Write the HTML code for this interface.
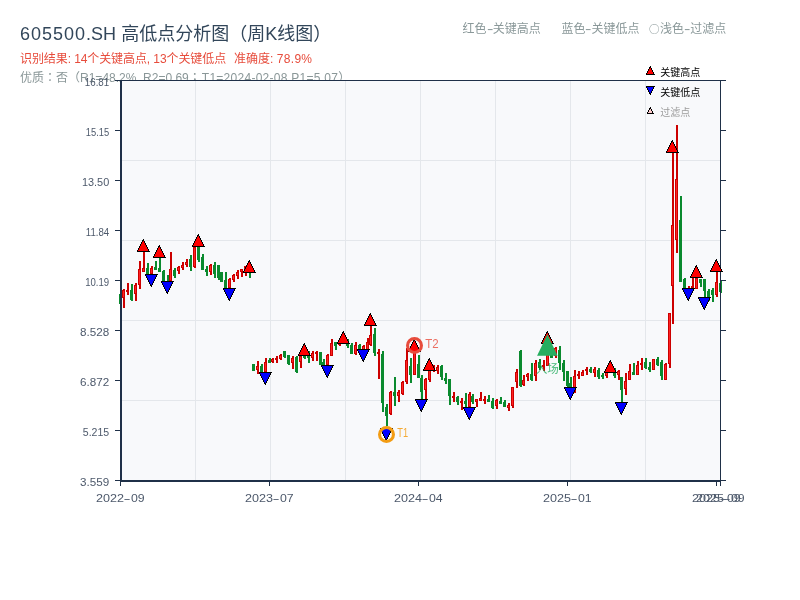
<!DOCTYPE html>
<html lang="zh-CN"><head><meta charset="utf-8"><title>605500.SH 高低点分析图</title>
<style>
html,body{margin:0;padding:0;background:#fff;}
body{width:800px;height:600px;position:relative;overflow:hidden;font-family:"Liberation Sans","Noto Sans CJK SC",sans-serif;}
.t{position:absolute;white-space:nowrap;line-height:1;transform-origin:0 0;}
#title{left:20px;top:25px;font-size:18px;color:#32465a;}
#title .l{letter-spacing:0.97px;}
#title .l2{letter-spacing:0.1px;}
#sub{left:20px;top:53px;font-size:12px;color:#e74c3c;}
#info{left:20px;top:70.5px;font-size:12px;color:#8a9798;}
.lg{top:23px;font-size:12px;color:#8a9899;}
.hy{display:inline-block;width:6.2px;text-align:center;transform:scaleX(1.6);}
.tc{font-family:"Noto Sans CJK TC","Noto Sans CJK SC",sans-serif;}
.cj{font-family:"Noto Sans CJK SC",sans-serif;font-size:10.5px;margin-right:0.5px;position:relative;top:-0.3px;}
svg{position:absolute;left:0;top:0;}
svg text{font-family:"Liberation Sans","Noto Sans CJK SC",sans-serif;}
</style></head><body>
<div class="t" id="title"><span class="l">605500</span><span class="l2">.SH </span>高低点分析图（周K线图）</div>
<div class="t" id="sub"><span style="letter-spacing:-0.09px">识别结果: 14个关键高点, 13个关键低点</span><span style="margin-left:1.4px">&nbsp; 准确度: </span><span style="letter-spacing:0.3px">78.9%</span></div>
<div class="t" id="info">优质<span class="tc" lang="zh-TW">：</span>否（R1=48.2%, R2=0.69<span class="tc" lang="zh-TW">；</span><span style="letter-spacing:0.27px;margin-left:1px">T1=2024-02-08 P1=5.07</span>）</div>
<div class="t lg" style="left:462.5px">红色<span class="hy">-</span>关键高点</div>
<div class="t lg" style="left:561.4px">蓝色<span class="hy">-</span>关键低点</div>
<div class="t lg" style="left:649px"><span class="cj">○</span>浅色<span class="hy">-</span>过滤点</div>
<svg width="800" height="600" viewBox="0 0 800 600">

<rect x="120" y="80" width="601" height="401" fill="#f8f9fb"/>
<g stroke="#e4e7eb" stroke-width="1" fill="none" shape-rendering="crispEdges">
<line x1="195.5" y1="81" x2="195.5" y2="480"/>
<line x1="270.5" y1="81" x2="270.5" y2="480"/>
<line x1="345.5" y1="81" x2="345.5" y2="480"/>
<line x1="420.5" y1="81" x2="420.5" y2="480"/>
<line x1="495.5" y1="81" x2="495.5" y2="480"/>
<line x1="570.5" y1="81" x2="570.5" y2="480"/>
<line x1="645.5" y1="81" x2="645.5" y2="480"/>
<line x1="122" y1="160.5" x2="720" y2="160.5"/>
<line x1="122" y1="240.5" x2="720" y2="240.5"/>
<line x1="122" y1="320.5" x2="720" y2="320.5"/>
<line x1="122" y1="400.5" x2="720" y2="400.5"/>
</g>
<g shape-rendering="crispEdges">
<rect x="119" y="294" width="3" height="10" fill="#0a8a2e"/>
<rect x="123" y="289" width="2" height="19" fill="#cc0000"/>
<rect x="122" y="290" width="3" height="8" fill="#cc0000"/>
<rect x="123" y="291" width="1" height="6" fill="#ff2222"/>
<rect x="127" y="283" width="2" height="12" fill="#cc0000"/>
<rect x="126" y="290" width="3" height="2" fill="#cc0000"/>
<rect x="131" y="284" width="2" height="17" fill="#0a8a2e"/>
<rect x="130" y="290" width="3" height="10" fill="#0a8a2e"/>
<rect x="135" y="283" width="2" height="18" fill="#cc0000"/>
<rect x="134" y="285" width="3" height="9" fill="#cc0000"/>
<rect x="135" y="286" width="1" height="7" fill="#ff2222"/>
<rect x="139" y="261" width="2" height="28" fill="#cc0000"/>
<rect x="138" y="269" width="3" height="16" fill="#cc0000"/>
<rect x="139" y="270" width="1" height="14" fill="#ff2222"/>
<rect x="143" y="252" width="2" height="20" fill="#cc0000"/>
<rect x="142" y="268" width="3" height="4" fill="#cc0000"/>
<rect x="143" y="269" width="1" height="2" fill="#ff2222"/>
<rect x="147" y="263" width="2" height="11" fill="#0a8a2e"/>
<rect x="146" y="268" width="3" height="6" fill="#0a8a2e"/>
<rect x="151" y="266" width="2" height="8" fill="#cc0000"/>
<rect x="150" y="268" width="3" height="6" fill="#cc0000"/>
<rect x="151" y="269" width="1" height="4" fill="#ff2222"/>
<rect x="155" y="261" width="2" height="9" fill="#0a8a2e"/>
<rect x="154" y="267" width="3" height="3" fill="#0a8a2e"/>
<rect x="159" y="258" width="2" height="14" fill="#0a8a2e"/>
<rect x="158" y="268" width="3" height="4" fill="#0a8a2e"/>
<rect x="163" y="270" width="2" height="11" fill="#0a8a2e"/>
<rect x="162" y="271" width="3" height="10" fill="#0a8a2e"/>
<rect x="167" y="275" width="2" height="7" fill="#0a8a2e"/>
<rect x="166" y="281" width="3" height="1" fill="#0a8a2e"/>
<rect x="170" y="252" width="2" height="29" fill="#cc0000"/>
<rect x="169" y="269" width="3" height="12" fill="#cc0000"/>
<rect x="170" y="270" width="1" height="10" fill="#ff2222"/>
<rect x="174" y="268" width="2" height="10" fill="#0a8a2e"/>
<rect x="173" y="270" width="3" height="6" fill="#0a8a2e"/>
<rect x="178" y="266" width="2" height="8" fill="#cc0000"/>
<rect x="177" y="267" width="3" height="4" fill="#cc0000"/>
<rect x="178" y="268" width="1" height="2" fill="#ff2222"/>
<rect x="182" y="262" width="2" height="8" fill="#cc0000"/>
<rect x="181" y="265" width="3" height="3" fill="#cc0000"/>
<rect x="182" y="266" width="1" height="1" fill="#ff2222"/>
<rect x="186" y="259" width="2" height="8" fill="#cc0000"/>
<rect x="185" y="262" width="3" height="3" fill="#cc0000"/>
<rect x="186" y="263" width="1" height="1" fill="#ff2222"/>
<rect x="190" y="255" width="2" height="16" fill="#0a8a2e"/>
<rect x="189" y="259" width="3" height="8" fill="#0a8a2e"/>
<rect x="194" y="247" width="2" height="21" fill="#cc0000"/>
<rect x="193" y="247" width="3" height="20" fill="#cc0000"/>
<rect x="194" y="248" width="1" height="18" fill="#ff2222"/>
<rect x="198" y="247" width="2" height="15" fill="#0a8a2e"/>
<rect x="197" y="247" width="3" height="13" fill="#0a8a2e"/>
<rect x="202" y="254" width="2" height="16" fill="#0a8a2e"/>
<rect x="201" y="257" width="3" height="13" fill="#0a8a2e"/>
<rect x="206" y="266" width="2" height="10" fill="#0a8a2e"/>
<rect x="205" y="269" width="3" height="3" fill="#0a8a2e"/>
<rect x="210" y="264" width="2" height="11" fill="#cc0000"/>
<rect x="209" y="265" width="3" height="7" fill="#cc0000"/>
<rect x="210" y="266" width="1" height="5" fill="#ff2222"/>
<rect x="214" y="262" width="2" height="16" fill="#0a8a2e"/>
<rect x="213" y="265" width="3" height="9" fill="#0a8a2e"/>
<rect x="218" y="265" width="2" height="15" fill="#0a8a2e"/>
<rect x="217" y="265" width="3" height="13" fill="#0a8a2e"/>
<rect x="220" y="272" width="3" height="10" fill="#0a8a2e"/>
<rect x="225" y="272" width="2" height="16" fill="#0a8a2e"/>
<rect x="224" y="280" width="3" height="8" fill="#0a8a2e"/>
<rect x="229" y="278" width="2" height="10" fill="#cc0000"/>
<rect x="228" y="279" width="3" height="9" fill="#cc0000"/>
<rect x="229" y="280" width="1" height="7" fill="#ff2222"/>
<rect x="233" y="274" width="2" height="8" fill="#cc0000"/>
<rect x="232" y="275" width="3" height="5" fill="#cc0000"/>
<rect x="233" y="276" width="1" height="3" fill="#ff2222"/>
<rect x="237" y="270" width="2" height="9" fill="#cc0000"/>
<rect x="236" y="272" width="3" height="4" fill="#cc0000"/>
<rect x="237" y="273" width="1" height="2" fill="#ff2222"/>
<rect x="241" y="269" width="2" height="8" fill="#cc0000"/>
<rect x="240" y="269" width="3" height="3" fill="#cc0000"/>
<rect x="241" y="270" width="1" height="1" fill="#ff2222"/>
<rect x="245" y="266" width="2" height="10" fill="#cc0000"/>
<rect x="244" y="266" width="3" height="6" fill="#cc0000"/>
<rect x="245" y="267" width="1" height="4" fill="#ff2222"/>
<rect x="249" y="270" width="2" height="8" fill="#0a8a2e"/>
<rect x="248" y="270" width="3" height="2" fill="#0a8a2e"/>
<rect x="252" y="364" width="3" height="7" fill="#0a8a2e"/>
<rect x="257" y="361" width="2" height="13" fill="#cc0000"/>
<rect x="256" y="366" width="3" height="4" fill="#cc0000"/>
<rect x="257" y="367" width="1" height="2" fill="#ff2222"/>
<rect x="261" y="364" width="2" height="8" fill="#0a8a2e"/>
<rect x="260" y="366" width="3" height="6" fill="#0a8a2e"/>
<rect x="265" y="358" width="2" height="14" fill="#cc0000"/>
<rect x="264" y="362" width="3" height="10" fill="#cc0000"/>
<rect x="265" y="363" width="1" height="8" fill="#ff2222"/>
<rect x="269" y="358" width="2" height="5" fill="#0a8a2e"/>
<rect x="268" y="360" width="3" height="3" fill="#0a8a2e"/>
<rect x="272" y="358" width="2" height="5" fill="#cc0000"/>
<rect x="271" y="359" width="3" height="3" fill="#cc0000"/>
<rect x="272" y="360" width="1" height="1" fill="#ff2222"/>
<rect x="276" y="356" width="2" height="7" fill="#cc0000"/>
<rect x="275" y="358" width="3" height="2" fill="#cc0000"/>
<rect x="280" y="354" width="2" height="6" fill="#cc0000"/>
<rect x="279" y="355" width="3" height="4" fill="#cc0000"/>
<rect x="280" y="356" width="1" height="2" fill="#ff2222"/>
<rect x="284" y="351" width="2" height="7" fill="#0a8a2e"/>
<rect x="283" y="351" width="3" height="6" fill="#0a8a2e"/>
<rect x="288" y="355" width="2" height="10" fill="#0a8a2e"/>
<rect x="287" y="355" width="3" height="9" fill="#0a8a2e"/>
<rect x="292" y="356" width="2" height="13" fill="#cc0000"/>
<rect x="291" y="358" width="3" height="5" fill="#cc0000"/>
<rect x="292" y="359" width="1" height="3" fill="#ff2222"/>
<rect x="296" y="356" width="2" height="17" fill="#0a8a2e"/>
<rect x="295" y="357" width="3" height="15" fill="#0a8a2e"/>
<rect x="300" y="356" width="2" height="12" fill="#cc0000"/>
<rect x="299" y="356" width="3" height="6" fill="#cc0000"/>
<rect x="300" y="357" width="1" height="4" fill="#ff2222"/>
<rect x="304" y="356" width="2" height="3" fill="#0a8a2e"/>
<rect x="303" y="356" width="3" height="2" fill="#0a8a2e"/>
<rect x="308" y="351" width="2" height="12" fill="#0a8a2e"/>
<rect x="307" y="352" width="3" height="6" fill="#0a8a2e"/>
<rect x="312" y="351" width="2" height="10" fill="#cc0000"/>
<rect x="311" y="353" width="3" height="5" fill="#cc0000"/>
<rect x="312" y="354" width="1" height="3" fill="#ff2222"/>
<rect x="316" y="351" width="2" height="10" fill="#cc0000"/>
<rect x="315" y="352" width="3" height="2" fill="#cc0000"/>
<rect x="319" y="352" width="3" height="13" fill="#0a8a2e"/>
<rect x="323" y="359" width="2" height="6" fill="#0a8a2e"/>
<rect x="322" y="362" width="3" height="3" fill="#0a8a2e"/>
<rect x="327" y="354" width="2" height="11" fill="#cc0000"/>
<rect x="326" y="355" width="3" height="10" fill="#cc0000"/>
<rect x="327" y="356" width="1" height="8" fill="#ff2222"/>
<rect x="331" y="339" width="2" height="17" fill="#cc0000"/>
<rect x="330" y="343" width="3" height="13" fill="#cc0000"/>
<rect x="331" y="344" width="1" height="11" fill="#ff2222"/>
<rect x="335" y="342" width="2" height="8" fill="#0a8a2e"/>
<rect x="334" y="342" width="3" height="4" fill="#0a8a2e"/>
<rect x="339" y="342" width="2" height="4" fill="#cc0000"/>
<rect x="338" y="343" width="3" height="2" fill="#cc0000"/>
<rect x="342" y="338" width="3" height="5" fill="#cc0000"/>
<rect x="343" y="339" width="1" height="3" fill="#ff2222"/>
<rect x="347" y="339" width="2" height="9" fill="#0a8a2e"/>
<rect x="346" y="341" width="3" height="5" fill="#0a8a2e"/>
<rect x="351" y="343" width="2" height="11" fill="#0a8a2e"/>
<rect x="350" y="345" width="3" height="9" fill="#0a8a2e"/>
<rect x="355" y="342" width="2" height="13" fill="#cc0000"/>
<rect x="354" y="345" width="3" height="9" fill="#cc0000"/>
<rect x="355" y="346" width="1" height="7" fill="#ff2222"/>
<rect x="359" y="344" width="2" height="6" fill="#0a8a2e"/>
<rect x="358" y="345" width="3" height="5" fill="#0a8a2e"/>
<rect x="363" y="345" width="2" height="5" fill="#cc0000"/>
<rect x="362" y="346" width="3" height="4" fill="#cc0000"/>
<rect x="363" y="347" width="1" height="2" fill="#ff2222"/>
<rect x="367" y="338" width="2" height="12" fill="#cc0000"/>
<rect x="366" y="342" width="3" height="8" fill="#cc0000"/>
<rect x="367" y="343" width="1" height="6" fill="#ff2222"/>
<rect x="370" y="326" width="2" height="20" fill="#cc0000"/>
<rect x="369" y="335" width="3" height="10" fill="#cc0000"/>
<rect x="370" y="336" width="1" height="8" fill="#ff2222"/>
<rect x="374" y="328" width="2" height="28" fill="#0a8a2e"/>
<rect x="373" y="334" width="3" height="19" fill="#0a8a2e"/>
<rect x="378" y="349" width="2" height="30" fill="#cc0000"/>
<rect x="377" y="352" width="3" height="2" fill="#cc0000"/>
<rect x="382" y="351" width="2" height="61" fill="#0a8a2e"/>
<rect x="381" y="354" width="3" height="49" fill="#0a8a2e"/>
<rect x="386" y="404" width="2" height="22" fill="#0a8a2e"/>
<rect x="385" y="407" width="3" height="9" fill="#0a8a2e"/>
<rect x="390" y="391" width="2" height="24" fill="#cc0000"/>
<rect x="389" y="392" width="3" height="22" fill="#cc0000"/>
<rect x="390" y="393" width="1" height="20" fill="#ff2222"/>
<rect x="394" y="377" width="2" height="29" fill="#0a8a2e"/>
<rect x="393" y="392" width="3" height="4" fill="#0a8a2e"/>
<rect x="398" y="390" width="2" height="12" fill="#cc0000"/>
<rect x="397" y="392" width="3" height="4" fill="#cc0000"/>
<rect x="398" y="393" width="1" height="2" fill="#ff2222"/>
<rect x="402" y="381" width="2" height="14" fill="#cc0000"/>
<rect x="401" y="382" width="3" height="12" fill="#cc0000"/>
<rect x="402" y="383" width="1" height="10" fill="#ff2222"/>
<rect x="406" y="348" width="2" height="36" fill="#cc0000"/>
<rect x="405" y="360" width="3" height="22" fill="#cc0000"/>
<rect x="406" y="361" width="1" height="20" fill="#ff2222"/>
<rect x="410" y="358" width="2" height="25" fill="#0a8a2e"/>
<rect x="409" y="366" width="3" height="9" fill="#0a8a2e"/>
<rect x="413" y="353" width="3" height="22" fill="#cc0000"/>
<rect x="414" y="354" width="1" height="20" fill="#ff2222"/>
<rect x="418" y="355" width="2" height="23" fill="#0a8a2e"/>
<rect x="417" y="364" width="3" height="14" fill="#0a8a2e"/>
<rect x="421" y="375" width="2" height="24" fill="#0a8a2e"/>
<rect x="420" y="378" width="3" height="14" fill="#0a8a2e"/>
<rect x="425" y="378" width="2" height="21" fill="#cc0000"/>
<rect x="424" y="379" width="3" height="11" fill="#cc0000"/>
<rect x="425" y="380" width="1" height="9" fill="#ff2222"/>
<rect x="429" y="368" width="2" height="14" fill="#cc0000"/>
<rect x="428" y="368" width="3" height="12" fill="#cc0000"/>
<rect x="429" y="369" width="1" height="10" fill="#ff2222"/>
<rect x="433" y="365" width="2" height="7" fill="#cc0000"/>
<rect x="432" y="366" width="3" height="4" fill="#cc0000"/>
<rect x="433" y="367" width="1" height="2" fill="#ff2222"/>
<rect x="437" y="365" width="2" height="9" fill="#cc0000"/>
<rect x="436" y="367" width="3" height="4" fill="#cc0000"/>
<rect x="437" y="368" width="1" height="2" fill="#ff2222"/>
<rect x="441" y="365" width="2" height="15" fill="#0a8a2e"/>
<rect x="440" y="366" width="3" height="11" fill="#0a8a2e"/>
<rect x="445" y="373" width="2" height="11" fill="#0a8a2e"/>
<rect x="444" y="378" width="3" height="3" fill="#0a8a2e"/>
<rect x="449" y="379" width="2" height="26" fill="#0a8a2e"/>
<rect x="448" y="379" width="3" height="17" fill="#0a8a2e"/>
<rect x="453" y="392" width="2" height="10" fill="#cc0000"/>
<rect x="452" y="396" width="3" height="2" fill="#cc0000"/>
<rect x="457" y="396" width="2" height="9" fill="#0a8a2e"/>
<rect x="456" y="397" width="3" height="5" fill="#0a8a2e"/>
<rect x="461" y="398" width="2" height="12" fill="#cc0000"/>
<rect x="460" y="401" width="3" height="2" fill="#cc0000"/>
<rect x="465" y="393" width="2" height="14" fill="#0a8a2e"/>
<rect x="464" y="401" width="3" height="3" fill="#0a8a2e"/>
<rect x="469" y="392" width="2" height="15" fill="#cc0000"/>
<rect x="468" y="394" width="3" height="13" fill="#cc0000"/>
<rect x="469" y="395" width="1" height="11" fill="#ff2222"/>
<rect x="472" y="394" width="2" height="10" fill="#0a8a2e"/>
<rect x="471" y="396" width="3" height="6" fill="#0a8a2e"/>
<rect x="476" y="399" width="2" height="8" fill="#cc0000"/>
<rect x="475" y="399" width="3" height="3" fill="#cc0000"/>
<rect x="476" y="400" width="1" height="1" fill="#ff2222"/>
<rect x="480" y="392" width="2" height="9" fill="#cc0000"/>
<rect x="479" y="398" width="3" height="3" fill="#cc0000"/>
<rect x="480" y="399" width="1" height="1" fill="#ff2222"/>
<rect x="484" y="396" width="2" height="8" fill="#cc0000"/>
<rect x="483" y="399" width="3" height="2" fill="#cc0000"/>
<rect x="488" y="395" width="2" height="7" fill="#0a8a2e"/>
<rect x="487" y="399" width="3" height="3" fill="#0a8a2e"/>
<rect x="492" y="398" width="2" height="11" fill="#0a8a2e"/>
<rect x="491" y="401" width="3" height="7" fill="#0a8a2e"/>
<rect x="496" y="399" width="2" height="10" fill="#cc0000"/>
<rect x="495" y="400" width="3" height="6" fill="#cc0000"/>
<rect x="496" y="401" width="1" height="4" fill="#ff2222"/>
<rect x="500" y="397" width="2" height="7" fill="#0a8a2e"/>
<rect x="499" y="401" width="3" height="3" fill="#0a8a2e"/>
<rect x="504" y="400" width="2" height="7" fill="#0a8a2e"/>
<rect x="503" y="402" width="3" height="5" fill="#0a8a2e"/>
<rect x="508" y="403" width="2" height="8" fill="#cc0000"/>
<rect x="507" y="405" width="3" height="3" fill="#cc0000"/>
<rect x="508" y="406" width="1" height="1" fill="#ff2222"/>
<rect x="512" y="387" width="2" height="21" fill="#cc0000"/>
<rect x="511" y="387" width="3" height="19" fill="#cc0000"/>
<rect x="512" y="388" width="1" height="17" fill="#ff2222"/>
<rect x="516" y="369" width="2" height="19" fill="#cc0000"/>
<rect x="515" y="372" width="3" height="10" fill="#cc0000"/>
<rect x="516" y="373" width="1" height="8" fill="#ff2222"/>
<rect x="520" y="350" width="2" height="37" fill="#0a8a2e"/>
<rect x="519" y="351" width="3" height="35" fill="#0a8a2e"/>
<rect x="523" y="375" width="2" height="11" fill="#cc0000"/>
<rect x="522" y="380" width="3" height="5" fill="#cc0000"/>
<rect x="523" y="381" width="1" height="3" fill="#ff2222"/>
<rect x="527" y="373" width="2" height="8" fill="#cc0000"/>
<rect x="526" y="374" width="3" height="3" fill="#cc0000"/>
<rect x="527" y="375" width="1" height="1" fill="#ff2222"/>
<rect x="531" y="363" width="2" height="18" fill="#0a8a2e"/>
<rect x="530" y="374" width="3" height="6" fill="#0a8a2e"/>
<rect x="535" y="360" width="2" height="21" fill="#cc0000"/>
<rect x="534" y="363" width="3" height="13" fill="#cc0000"/>
<rect x="535" y="364" width="1" height="11" fill="#ff2222"/>
<rect x="539" y="359" width="2" height="11" fill="#0a8a2e"/>
<rect x="538" y="362" width="3" height="6" fill="#0a8a2e"/>
<rect x="543" y="360" width="2" height="11" fill="#cc0000"/>
<rect x="542" y="365" width="3" height="2" fill="#cc0000"/>
<rect x="546" y="352" width="3" height="14" fill="#cc0000"/>
<rect x="547" y="353" width="1" height="12" fill="#ff2222"/>
<rect x="550" y="350" width="3" height="8" fill="#0a8a2e"/>
<rect x="555" y="347" width="2" height="11" fill="#cc0000"/>
<rect x="554" y="348" width="3" height="8" fill="#cc0000"/>
<rect x="555" y="349" width="1" height="6" fill="#ff2222"/>
<rect x="559" y="346" width="2" height="24" fill="#0a8a2e"/>
<rect x="558" y="350" width="3" height="13" fill="#0a8a2e"/>
<rect x="563" y="360" width="2" height="21" fill="#0a8a2e"/>
<rect x="562" y="363" width="3" height="9" fill="#0a8a2e"/>
<rect x="567" y="371" width="2" height="16" fill="#0a8a2e"/>
<rect x="566" y="371" width="3" height="15" fill="#0a8a2e"/>
<rect x="570" y="377" width="2" height="10" fill="#0a8a2e"/>
<rect x="569" y="383" width="3" height="4" fill="#0a8a2e"/>
<rect x="574" y="370" width="2" height="23" fill="#cc0000"/>
<rect x="573" y="376" width="3" height="16" fill="#cc0000"/>
<rect x="574" y="377" width="1" height="14" fill="#ff2222"/>
<rect x="578" y="371" width="2" height="8" fill="#cc0000"/>
<rect x="577" y="374" width="3" height="2" fill="#cc0000"/>
<rect x="582" y="370" width="2" height="6" fill="#cc0000"/>
<rect x="581" y="372" width="3" height="4" fill="#cc0000"/>
<rect x="582" y="373" width="1" height="2" fill="#ff2222"/>
<rect x="586" y="367" width="2" height="8" fill="#cc0000"/>
<rect x="585" y="369" width="3" height="2" fill="#cc0000"/>
<rect x="590" y="367" width="2" height="6" fill="#0a8a2e"/>
<rect x="589" y="369" width="3" height="3" fill="#0a8a2e"/>
<rect x="594" y="367" width="2" height="10" fill="#cc0000"/>
<rect x="593" y="369" width="3" height="4" fill="#cc0000"/>
<rect x="594" y="370" width="1" height="2" fill="#ff2222"/>
<rect x="598" y="368" width="2" height="11" fill="#0a8a2e"/>
<rect x="597" y="370" width="3" height="7" fill="#0a8a2e"/>
<rect x="602" y="373" width="2" height="6" fill="#0a8a2e"/>
<rect x="601" y="375" width="3" height="2" fill="#0a8a2e"/>
<rect x="606" y="370" width="2" height="8" fill="#cc0000"/>
<rect x="605" y="370" width="3" height="6" fill="#cc0000"/>
<rect x="606" y="371" width="1" height="4" fill="#ff2222"/>
<rect x="609" y="365" width="3" height="5" fill="#cc0000"/>
<rect x="610" y="366" width="1" height="3" fill="#ff2222"/>
<rect x="614" y="368" width="2" height="10" fill="#0a8a2e"/>
<rect x="613" y="371" width="3" height="5" fill="#0a8a2e"/>
<rect x="618" y="370" width="2" height="10" fill="#cc0000"/>
<rect x="617" y="371" width="3" height="4" fill="#cc0000"/>
<rect x="618" y="372" width="1" height="2" fill="#ff2222"/>
<rect x="621" y="377" width="2" height="25" fill="#0a8a2e"/>
<rect x="620" y="377" width="3" height="13" fill="#0a8a2e"/>
<rect x="625" y="373" width="2" height="22" fill="#cc0000"/>
<rect x="624" y="381" width="3" height="8" fill="#cc0000"/>
<rect x="625" y="382" width="1" height="6" fill="#ff2222"/>
<rect x="629" y="364" width="2" height="16" fill="#cc0000"/>
<rect x="628" y="371" width="3" height="9" fill="#cc0000"/>
<rect x="629" y="372" width="1" height="7" fill="#ff2222"/>
<rect x="633" y="363" width="2" height="12" fill="#0a8a2e"/>
<rect x="632" y="372" width="3" height="3" fill="#0a8a2e"/>
<rect x="637" y="361" width="2" height="14" fill="#cc0000"/>
<rect x="636" y="365" width="3" height="10" fill="#cc0000"/>
<rect x="637" y="366" width="1" height="8" fill="#ff2222"/>
<rect x="641" y="358" width="2" height="12" fill="#cc0000"/>
<rect x="640" y="363" width="3" height="2" fill="#cc0000"/>
<rect x="645" y="358" width="2" height="11" fill="#0a8a2e"/>
<rect x="644" y="362" width="3" height="6" fill="#0a8a2e"/>
<rect x="649" y="362" width="2" height="10" fill="#0a8a2e"/>
<rect x="648" y="367" width="3" height="3" fill="#0a8a2e"/>
<rect x="652" y="359" width="3" height="11" fill="#cc0000"/>
<rect x="653" y="360" width="1" height="9" fill="#ff2222"/>
<rect x="657" y="357" width="2" height="9" fill="#0a8a2e"/>
<rect x="656" y="359" width="3" height="6" fill="#0a8a2e"/>
<rect x="661" y="360" width="2" height="20" fill="#0a8a2e"/>
<rect x="660" y="362" width="3" height="14" fill="#0a8a2e"/>
<rect x="665" y="363" width="2" height="17" fill="#cc0000"/>
<rect x="664" y="364" width="3" height="16" fill="#cc0000"/>
<rect x="665" y="365" width="1" height="14" fill="#ff2222"/>
<rect x="669" y="313" width="2" height="55" fill="#cc0000"/>
<rect x="668" y="313" width="3" height="51" fill="#cc0000"/>
<rect x="669" y="314" width="1" height="49" fill="#ff2222"/>
<rect x="672" y="152" width="2" height="172" fill="#cc0000"/>
<rect x="671" y="225" width="3" height="61" fill="#cc0000"/>
<rect x="672" y="226" width="1" height="59" fill="#ff2222"/>
<rect x="676" y="125" width="2" height="128" fill="#cc0000"/>
<rect x="675" y="179" width="3" height="61" fill="#cc0000"/>
<rect x="676" y="180" width="1" height="59" fill="#ff2222"/>
<rect x="680" y="196" width="2" height="86" fill="#0a8a2e"/>
<rect x="679" y="220" width="3" height="62" fill="#0a8a2e"/>
<rect x="684" y="278" width="2" height="10" fill="#0a8a2e"/>
<rect x="683" y="279" width="3" height="9" fill="#0a8a2e"/>
<rect x="688" y="286" width="2" height="3" fill="#cc0000"/>
<rect x="687" y="288" width="3" height="1" fill="#cc0000"/>
<rect x="692" y="278" width="2" height="13" fill="#cc0000"/>
<rect x="691" y="286" width="3" height="2" fill="#cc0000"/>
<rect x="695" y="278" width="3" height="11" fill="#cc0000"/>
<rect x="696" y="279" width="1" height="9" fill="#ff2222"/>
<rect x="700" y="279" width="2" height="8" fill="#0a8a2e"/>
<rect x="699" y="279" width="3" height="4" fill="#0a8a2e"/>
<rect x="704" y="279" width="2" height="18" fill="#0a8a2e"/>
<rect x="703" y="279" width="3" height="12" fill="#0a8a2e"/>
<rect x="708" y="289" width="2" height="12" fill="#0a8a2e"/>
<rect x="707" y="291" width="3" height="6" fill="#0a8a2e"/>
<rect x="712" y="288" width="2" height="14" fill="#0a8a2e"/>
<rect x="711" y="290" width="3" height="5" fill="#0a8a2e"/>
<rect x="716" y="272" width="2" height="25" fill="#cc0000"/>
<rect x="715" y="282" width="3" height="13" fill="#cc0000"/>
<rect x="716" y="283" width="1" height="11" fill="#ff2222"/>
<rect x="720" y="281" width="2" height="12" fill="#0a8a2e"/>
<rect x="719" y="283" width="3" height="9" fill="#0a8a2e"/>
</g>
<g fill="#1f3048" shape-rendering="crispEdges">
<rect x="120" y="80" width="2" height="402"/>
<rect x="120" y="480" width="601" height="2"/>
<rect x="720" y="80" width="1" height="402"/>
<rect x="120" y="80" width="601" height="1"/>
<rect x="115" y="80" width="5" height="1"/>
<rect x="721" y="80" width="5" height="1"/>
<rect x="115" y="130" width="5" height="1"/>
<rect x="721" y="130" width="5" height="1"/>
<rect x="115" y="180" width="5" height="1"/>
<rect x="721" y="180" width="5" height="1"/>
<rect x="115" y="230" width="5" height="1"/>
<rect x="721" y="230" width="5" height="1"/>
<rect x="115" y="280" width="5" height="1"/>
<rect x="721" y="280" width="5" height="1"/>
<rect x="115" y="330" width="5" height="1"/>
<rect x="721" y="330" width="5" height="1"/>
<rect x="115" y="380" width="5" height="1"/>
<rect x="721" y="380" width="5" height="1"/>
<rect x="115" y="430" width="5" height="1"/>
<rect x="721" y="430" width="5" height="1"/>
<rect x="115" y="480" width="5" height="1"/>
<rect x="721" y="480" width="5" height="1"/>
<rect x="120" y="482" width="1" height="4"/>
<rect x="269" y="482" width="1" height="4"/>
<rect x="418" y="482" width="1" height="4"/>
<rect x="567" y="482" width="1" height="4"/>
<rect x="716" y="482" width="1" height="4"/>
<rect x="720" y="482" width="1" height="4"/>
</g>
<g font-size="11" fill="#4d596b">
<text x="109.2" y="85.5" text-anchor="end" textLength="24.4" lengthAdjust="spacingAndGlyphs">16.81</text>
<text x="109.2" y="135.5" text-anchor="end" textLength="23.4" lengthAdjust="spacingAndGlyphs">15.15</text>
<text x="109.2" y="185.5" text-anchor="end" textLength="27.2" lengthAdjust="spacingAndGlyphs">13.50</text>
<text x="109.2" y="235.5" text-anchor="end" textLength="23.4" lengthAdjust="spacingAndGlyphs">11.84</text>
<text x="109.2" y="285.5" text-anchor="end" textLength="24" lengthAdjust="spacingAndGlyphs">10.19</text>
<text x="109.2" y="335.5" text-anchor="end" textLength="29.2" lengthAdjust="spacingAndGlyphs">8.528</text>
<text x="109.2" y="385.5" text-anchor="end" textLength="29.2" lengthAdjust="spacingAndGlyphs">6.872</text>
<text x="109.2" y="435.5" text-anchor="end" textLength="26.4" lengthAdjust="spacingAndGlyphs">5.215</text>
<text x="109.2" y="485.5" text-anchor="end" textLength="29.2" lengthAdjust="spacingAndGlyphs">3.559</text>
<text y="501.5"><tspan x="95.90" textLength="28" lengthAdjust="spacingAndGlyphs">2022</tspan><tspan x="123.50" textLength="7.1" lengthAdjust="spacingAndGlyphs">-</tspan><tspan x="130.90" textLength="13.7" lengthAdjust="spacingAndGlyphs">09</tspan></text>
<text y="501.5"><tspan x="244.90" textLength="28" lengthAdjust="spacingAndGlyphs">2023</tspan><tspan x="272.50" textLength="7.1" lengthAdjust="spacingAndGlyphs">-</tspan><tspan x="279.90" textLength="13.7" lengthAdjust="spacingAndGlyphs">07</tspan></text>
<text y="501.5"><tspan x="393.90" textLength="28" lengthAdjust="spacingAndGlyphs">2024</tspan><tspan x="421.50" textLength="7.1" lengthAdjust="spacingAndGlyphs">-</tspan><tspan x="428.90" textLength="13.7" lengthAdjust="spacingAndGlyphs">04</tspan></text>
<text y="501.5"><tspan x="542.90" textLength="28" lengthAdjust="spacingAndGlyphs">2025</tspan><tspan x="570.50" textLength="7.1" lengthAdjust="spacingAndGlyphs">-</tspan><tspan x="577.90" textLength="13.7" lengthAdjust="spacingAndGlyphs">01</tspan></text>
<text y="501.5"><tspan x="691.90" textLength="28" lengthAdjust="spacingAndGlyphs">2025</tspan><tspan x="719.50" textLength="7.1" lengthAdjust="spacingAndGlyphs">-</tspan><tspan x="726.90" textLength="13.7" lengthAdjust="spacingAndGlyphs">09</tspan></text>
<text y="501.5"><tspan x="695.90" textLength="28" lengthAdjust="spacingAndGlyphs">2025</tspan><tspan x="723.50" textLength="7.1" lengthAdjust="spacingAndGlyphs">-</tspan><tspan x="730.90" textLength="13.7" lengthAdjust="spacingAndGlyphs">09</tspan></text>
</g>
<g shape-rendering="crispEdges">
<path d="M137 251h13v1h-13zM137 250h12v1h-12zM138 249h11v1h-11zM138 248h10v1h-10zM139 247h9v1h-9zM139 246h8v1h-8zM140 245h7v1h-7zM140 244h6v1h-6zM141 243h5v1h-5zM141 242h4v1h-4zM142 241h3v1h-3zM142 240h2v1h-2zM143 239h1v1h-1z" fill="#000"/><path d="M138 250h10v1h-10zM139 249h9v1h-9zM139 248h8v1h-8zM140 247h7v1h-7zM140 246h6v1h-6zM141 245h5v1h-5zM141 244h4v1h-4zM142 243h3v1h-3zM142 242h2v1h-2zM143 241h1v1h-1z" fill="#ff0000"/>
<path d="M153 257h13v1h-13zM153 256h12v1h-12zM154 255h11v1h-11zM154 254h10v1h-10zM155 253h9v1h-9zM155 252h8v1h-8zM156 251h7v1h-7zM156 250h6v1h-6zM157 249h5v1h-5zM157 248h4v1h-4zM158 247h3v1h-3zM158 246h2v1h-2zM159 245h1v1h-1z" fill="#000"/><path d="M154 256h10v1h-10zM155 255h9v1h-9zM155 254h8v1h-8zM156 253h7v1h-7zM156 252h6v1h-6zM157 251h5v1h-5zM157 250h4v1h-4zM158 249h3v1h-3zM158 248h2v1h-2zM159 247h1v1h-1z" fill="#ff0000"/>
<path d="M192 246h13v1h-13zM192 245h12v1h-12zM193 244h11v1h-11zM193 243h10v1h-10zM194 242h9v1h-9zM194 241h8v1h-8zM195 240h7v1h-7zM195 239h6v1h-6zM196 238h5v1h-5zM196 237h4v1h-4zM197 236h3v1h-3zM197 235h2v1h-2zM198 234h1v1h-1z" fill="#000"/><path d="M193 245h10v1h-10zM194 244h9v1h-9zM194 243h8v1h-8zM195 242h7v1h-7zM195 241h6v1h-6zM196 240h5v1h-5zM196 239h4v1h-4zM197 238h3v1h-3zM197 237h2v1h-2zM198 236h1v1h-1z" fill="#ff0000"/>
<path d="M243 272h13v1h-13zM243 271h12v1h-12zM244 270h11v1h-11zM244 269h10v1h-10zM245 268h9v1h-9zM245 267h8v1h-8zM246 266h7v1h-7zM246 265h6v1h-6zM247 264h5v1h-5zM247 263h4v1h-4zM248 262h3v1h-3zM248 261h2v1h-2zM249 260h1v1h-1z" fill="#000"/><path d="M244 271h10v1h-10zM245 270h9v1h-9zM245 269h8v1h-8zM246 268h7v1h-7zM246 267h6v1h-6zM247 266h5v1h-5zM247 265h4v1h-4zM248 264h3v1h-3zM248 263h2v1h-2zM249 262h1v1h-1z" fill="#ff0000"/>
<path d="M298 355h13v1h-13zM298 354h12v1h-12zM299 353h11v1h-11zM299 352h10v1h-10zM300 351h9v1h-9zM300 350h8v1h-8zM301 349h7v1h-7zM301 348h6v1h-6zM302 347h5v1h-5zM302 346h4v1h-4zM303 345h3v1h-3zM303 344h2v1h-2zM304 343h1v1h-1z" fill="#000"/><path d="M299 354h10v1h-10zM300 353h9v1h-9zM300 352h8v1h-8zM301 351h7v1h-7zM301 350h6v1h-6zM302 349h5v1h-5zM302 348h4v1h-4zM303 347h3v1h-3zM303 346h2v1h-2zM304 345h1v1h-1z" fill="#ff0000"/>
<path d="M337 343h13v1h-13zM337 342h12v1h-12zM338 341h11v1h-11zM338 340h10v1h-10zM339 339h9v1h-9zM339 338h8v1h-8zM340 337h7v1h-7zM340 336h6v1h-6zM341 335h5v1h-5zM341 334h4v1h-4zM342 333h3v1h-3zM342 332h2v1h-2zM343 331h1v1h-1z" fill="#000"/><path d="M338 342h10v1h-10zM339 341h9v1h-9zM339 340h8v1h-8zM340 339h7v1h-7zM340 338h6v1h-6zM341 337h5v1h-5zM341 336h4v1h-4zM342 335h3v1h-3zM342 334h2v1h-2zM343 333h1v1h-1z" fill="#ff0000"/>
<path d="M364 325h13v1h-13zM364 324h12v1h-12zM365 323h11v1h-11zM365 322h10v1h-10zM366 321h9v1h-9zM366 320h8v1h-8zM367 319h7v1h-7zM367 318h6v1h-6zM368 317h5v1h-5zM368 316h4v1h-4zM369 315h3v1h-3zM369 314h2v1h-2zM370 313h1v1h-1z" fill="#000"/><path d="M365 324h10v1h-10zM366 323h9v1h-9zM366 322h8v1h-8zM367 321h7v1h-7zM367 320h6v1h-6zM368 319h5v1h-5zM368 318h4v1h-4zM369 317h3v1h-3zM369 316h2v1h-2zM370 315h1v1h-1z" fill="#ff0000"/>
<path d="M408 351h13v1h-13zM408 350h12v1h-12zM409 349h11v1h-11zM409 348h10v1h-10zM410 347h9v1h-9zM410 346h8v1h-8zM411 345h7v1h-7zM411 344h6v1h-6zM412 343h5v1h-5zM412 342h4v1h-4zM413 341h3v1h-3zM413 340h2v1h-2zM414 339h1v1h-1z" fill="#000"/><path d="M409 350h10v1h-10zM410 349h9v1h-9zM410 348h8v1h-8zM411 347h7v1h-7zM411 346h6v1h-6zM412 345h5v1h-5zM412 344h4v1h-4zM413 343h3v1h-3zM413 342h2v1h-2zM414 341h1v1h-1z" fill="#ff0000"/>
<path d="M423 370h13v1h-13zM423 369h12v1h-12zM424 368h11v1h-11zM424 367h10v1h-10zM425 366h9v1h-9zM425 365h8v1h-8zM426 364h7v1h-7zM426 363h6v1h-6zM427 362h5v1h-5zM427 361h4v1h-4zM428 360h3v1h-3zM428 359h2v1h-2zM429 358h1v1h-1z" fill="#000"/><path d="M424 369h10v1h-10zM425 368h9v1h-9zM425 367h8v1h-8zM426 366h7v1h-7zM426 365h6v1h-6zM427 364h5v1h-5zM427 363h4v1h-4zM428 362h3v1h-3zM428 361h2v1h-2zM429 360h1v1h-1z" fill="#ff0000"/>
<path d="M541 343h13v1h-13zM541 342h12v1h-12zM542 341h11v1h-11zM542 340h10v1h-10zM543 339h9v1h-9zM543 338h8v1h-8zM544 337h7v1h-7zM544 336h6v1h-6zM545 335h5v1h-5zM545 334h4v1h-4zM546 333h3v1h-3zM546 332h2v1h-2zM547 331h1v1h-1z" fill="#000"/><path d="M542 342h10v1h-10zM543 341h9v1h-9zM543 340h8v1h-8zM544 339h7v1h-7zM544 338h6v1h-6zM545 337h5v1h-5zM545 336h4v1h-4zM546 335h3v1h-3zM546 334h2v1h-2zM547 333h1v1h-1z" fill="#ff0000"/>
<path d="M604 372h13v1h-13zM604 371h12v1h-12zM605 370h11v1h-11zM605 369h10v1h-10zM606 368h9v1h-9zM606 367h8v1h-8zM607 366h7v1h-7zM607 365h6v1h-6zM608 364h5v1h-5zM608 363h4v1h-4zM609 362h3v1h-3zM609 361h2v1h-2zM610 360h1v1h-1z" fill="#000"/><path d="M605 371h10v1h-10zM606 370h9v1h-9zM606 369h8v1h-8zM607 368h7v1h-7zM607 367h6v1h-6zM608 366h5v1h-5zM608 365h4v1h-4zM609 364h3v1h-3zM609 363h2v1h-2zM610 362h1v1h-1z" fill="#ff0000"/>
<path d="M666 152h13v1h-13zM666 151h12v1h-12zM667 150h11v1h-11zM667 149h10v1h-10zM668 148h9v1h-9zM668 147h8v1h-8zM669 146h7v1h-7zM669 145h6v1h-6zM670 144h5v1h-5zM670 143h4v1h-4zM671 142h3v1h-3zM671 141h2v1h-2zM672 140h1v1h-1z" fill="#000"/><path d="M667 151h10v1h-10zM668 150h9v1h-9zM668 149h8v1h-8zM669 148h7v1h-7zM669 147h6v1h-6zM670 146h5v1h-5zM670 145h4v1h-4zM671 144h3v1h-3zM671 143h2v1h-2zM672 142h1v1h-1z" fill="#ff0000"/>
<path d="M690 277h13v1h-13zM690 276h12v1h-12zM691 275h11v1h-11zM691 274h10v1h-10zM692 273h9v1h-9zM692 272h8v1h-8zM693 271h7v1h-7zM693 270h6v1h-6zM694 269h5v1h-5zM694 268h4v1h-4zM695 267h3v1h-3zM695 266h2v1h-2zM696 265h1v1h-1z" fill="#000"/><path d="M691 276h10v1h-10zM692 275h9v1h-9zM692 274h8v1h-8zM693 273h7v1h-7zM693 272h6v1h-6zM694 271h5v1h-5zM694 270h4v1h-4zM695 269h3v1h-3zM695 268h2v1h-2zM696 267h1v1h-1z" fill="#ff0000"/>
<path d="M710 271h13v1h-13zM710 270h12v1h-12zM711 269h11v1h-11zM711 268h10v1h-10zM712 267h9v1h-9zM712 266h8v1h-8zM713 265h7v1h-7zM713 264h6v1h-6zM714 263h5v1h-5zM714 262h4v1h-4zM715 261h3v1h-3zM715 260h2v1h-2zM716 259h1v1h-1z" fill="#000"/><path d="M711 270h10v1h-10zM712 269h9v1h-9zM712 268h8v1h-8zM713 267h7v1h-7zM713 266h6v1h-6zM714 265h5v1h-5zM714 264h4v1h-4zM715 263h3v1h-3zM715 262h2v1h-2zM716 261h1v1h-1z" fill="#ff0000"/>
<path d="M145 274h13v1h-13zM145 275h12v1h-12zM146 276h11v1h-11zM146 277h10v1h-10zM147 278h9v1h-9zM147 279h8v1h-8zM148 280h7v1h-7zM148 281h6v1h-6zM149 282h5v1h-5zM149 283h4v1h-4zM150 284h3v1h-3zM150 285h2v1h-2zM151 286h1v1h-1z" fill="#000"/><path d="M146 275h10v1h-10zM147 276h9v1h-9zM147 277h8v1h-8zM148 278h7v1h-7zM148 279h6v1h-6zM149 280h5v1h-5zM149 281h4v1h-4zM150 282h3v1h-3zM150 283h2v1h-2zM151 284h1v1h-1z" fill="#0000ff"/>
<path d="M161 281h13v1h-13zM161 282h12v1h-12zM162 283h11v1h-11zM162 284h10v1h-10zM163 285h9v1h-9zM163 286h8v1h-8zM164 287h7v1h-7zM164 288h6v1h-6zM165 289h5v1h-5zM165 290h4v1h-4zM166 291h3v1h-3zM166 292h2v1h-2zM167 293h1v1h-1z" fill="#000"/><path d="M162 282h10v1h-10zM163 283h9v1h-9zM163 284h8v1h-8zM164 285h7v1h-7zM164 286h6v1h-6zM165 287h5v1h-5zM165 288h4v1h-4zM166 289h3v1h-3zM166 290h2v1h-2zM167 291h1v1h-1z" fill="#0000ff"/>
<path d="M223 288h13v1h-13zM223 289h12v1h-12zM224 290h11v1h-11zM224 291h10v1h-10zM225 292h9v1h-9zM225 293h8v1h-8zM226 294h7v1h-7zM226 295h6v1h-6zM227 296h5v1h-5zM227 297h4v1h-4zM228 298h3v1h-3zM228 299h2v1h-2zM229 300h1v1h-1z" fill="#000"/><path d="M224 289h10v1h-10zM225 290h9v1h-9zM225 291h8v1h-8zM226 292h7v1h-7zM226 293h6v1h-6zM227 294h5v1h-5zM227 295h4v1h-4zM228 296h3v1h-3zM228 297h2v1h-2zM229 298h1v1h-1z" fill="#0000ff"/>
<path d="M259 372h13v1h-13zM259 373h12v1h-12zM260 374h11v1h-11zM260 375h10v1h-10zM261 376h9v1h-9zM261 377h8v1h-8zM262 378h7v1h-7zM262 379h6v1h-6zM263 380h5v1h-5zM263 381h4v1h-4zM264 382h3v1h-3zM264 383h2v1h-2zM265 384h1v1h-1z" fill="#000"/><path d="M260 373h10v1h-10zM261 374h9v1h-9zM261 375h8v1h-8zM262 376h7v1h-7zM262 377h6v1h-6zM263 378h5v1h-5zM263 379h4v1h-4zM264 380h3v1h-3zM264 381h2v1h-2zM265 382h1v1h-1z" fill="#0000ff"/>
<path d="M321 365h13v1h-13zM321 366h12v1h-12zM322 367h11v1h-11zM322 368h10v1h-10zM323 369h9v1h-9zM323 370h8v1h-8zM324 371h7v1h-7zM324 372h6v1h-6zM325 373h5v1h-5zM325 374h4v1h-4zM326 375h3v1h-3zM326 376h2v1h-2zM327 377h1v1h-1z" fill="#000"/><path d="M322 366h10v1h-10zM323 367h9v1h-9zM323 368h8v1h-8zM324 369h7v1h-7zM324 370h6v1h-6zM325 371h5v1h-5zM325 372h4v1h-4zM326 373h3v1h-3zM326 374h2v1h-2zM327 375h1v1h-1z" fill="#0000ff"/>
<path d="M357 349h13v1h-13zM357 350h12v1h-12zM358 351h11v1h-11zM358 352h10v1h-10zM359 353h9v1h-9zM359 354h8v1h-8zM360 355h7v1h-7zM360 356h6v1h-6zM361 357h5v1h-5zM361 358h4v1h-4zM362 359h3v1h-3zM362 360h2v1h-2zM363 361h1v1h-1z" fill="#000"/><path d="M358 350h10v1h-10zM359 351h9v1h-9zM359 352h8v1h-8zM360 353h7v1h-7zM360 354h6v1h-6zM361 355h5v1h-5zM361 356h4v1h-4zM362 357h3v1h-3zM362 358h2v1h-2zM363 359h1v1h-1z" fill="#0000ff"/>
<path d="M380 428h13v1h-13zM380 429h12v1h-12zM381 430h11v1h-11zM381 431h10v1h-10zM382 432h9v1h-9zM382 433h8v1h-8zM383 434h7v1h-7zM383 435h6v1h-6zM384 436h5v1h-5zM384 437h4v1h-4zM385 438h3v1h-3zM385 439h2v1h-2zM386 440h1v1h-1z" fill="#000"/><path d="M381 429h10v1h-10zM382 430h9v1h-9zM382 431h8v1h-8zM383 432h7v1h-7zM383 433h6v1h-6zM384 434h5v1h-5zM384 435h4v1h-4zM385 436h3v1h-3zM385 437h2v1h-2zM386 438h1v1h-1z" fill="#0000ff"/>
<path d="M415 399h13v1h-13zM415 400h12v1h-12zM416 401h11v1h-11zM416 402h10v1h-10zM417 403h9v1h-9zM417 404h8v1h-8zM418 405h7v1h-7zM418 406h6v1h-6zM419 407h5v1h-5zM419 408h4v1h-4zM420 409h3v1h-3zM420 410h2v1h-2zM421 411h1v1h-1z" fill="#000"/><path d="M416 400h10v1h-10zM417 401h9v1h-9zM417 402h8v1h-8zM418 403h7v1h-7zM418 404h6v1h-6zM419 405h5v1h-5zM419 406h4v1h-4zM420 407h3v1h-3zM420 408h2v1h-2zM421 409h1v1h-1z" fill="#0000ff"/>
<path d="M463 407h13v1h-13zM463 408h12v1h-12zM464 409h11v1h-11zM464 410h10v1h-10zM465 411h9v1h-9zM465 412h8v1h-8zM466 413h7v1h-7zM466 414h6v1h-6zM467 415h5v1h-5zM467 416h4v1h-4zM468 417h3v1h-3zM468 418h2v1h-2zM469 419h1v1h-1z" fill="#000"/><path d="M464 408h10v1h-10zM465 409h9v1h-9zM465 410h8v1h-8zM466 411h7v1h-7zM466 412h6v1h-6zM467 413h5v1h-5zM467 414h4v1h-4zM468 415h3v1h-3zM468 416h2v1h-2zM469 417h1v1h-1z" fill="#0000ff"/>
<path d="M564 387h13v1h-13zM564 388h12v1h-12zM565 389h11v1h-11zM565 390h10v1h-10zM566 391h9v1h-9zM566 392h8v1h-8zM567 393h7v1h-7zM567 394h6v1h-6zM568 395h5v1h-5zM568 396h4v1h-4zM569 397h3v1h-3zM569 398h2v1h-2zM570 399h1v1h-1z" fill="#000"/><path d="M565 388h10v1h-10zM566 389h9v1h-9zM566 390h8v1h-8zM567 391h7v1h-7zM567 392h6v1h-6zM568 393h5v1h-5zM568 394h4v1h-4zM569 395h3v1h-3zM569 396h2v1h-2zM570 397h1v1h-1z" fill="#0000ff"/>
<path d="M615 402h13v1h-13zM615 403h12v1h-12zM616 404h11v1h-11zM616 405h10v1h-10zM617 406h9v1h-9zM617 407h8v1h-8zM618 408h7v1h-7zM618 409h6v1h-6zM619 410h5v1h-5zM619 411h4v1h-4zM620 412h3v1h-3zM620 413h2v1h-2zM621 414h1v1h-1z" fill="#000"/><path d="M616 403h10v1h-10zM617 404h9v1h-9zM617 405h8v1h-8zM618 406h7v1h-7zM618 407h6v1h-6zM619 408h5v1h-5zM619 409h4v1h-4zM620 410h3v1h-3zM620 411h2v1h-2zM621 412h1v1h-1z" fill="#0000ff"/>
<path d="M682 288h13v1h-13zM682 289h12v1h-12zM683 290h11v1h-11zM683 291h10v1h-10zM684 292h9v1h-9zM684 293h8v1h-8zM685 294h7v1h-7zM685 295h6v1h-6zM686 296h5v1h-5zM686 297h4v1h-4zM687 298h3v1h-3zM687 299h2v1h-2zM688 300h1v1h-1z" fill="#000"/><path d="M683 289h10v1h-10zM684 290h9v1h-9zM684 291h8v1h-8zM685 292h7v1h-7zM685 293h6v1h-6zM686 294h5v1h-5zM686 295h4v1h-4zM687 296h3v1h-3zM687 297h2v1h-2zM688 298h1v1h-1z" fill="#0000ff"/>
<path d="M698 297h13v1h-13zM698 298h12v1h-12zM699 299h11v1h-11zM699 300h10v1h-10zM700 301h9v1h-9zM700 302h8v1h-8zM701 303h7v1h-7zM701 304h6v1h-6zM702 305h5v1h-5zM702 306h4v1h-4zM703 307h3v1h-3zM703 308h2v1h-2zM704 309h1v1h-1z" fill="#000"/><path d="M699 298h10v1h-10zM700 299h9v1h-9zM700 300h8v1h-8zM701 301h7v1h-7zM701 302h6v1h-6zM702 303h5v1h-5zM702 304h4v1h-4zM703 305h3v1h-3zM703 306h2v1h-2zM704 307h1v1h-1z" fill="#0000ff"/>
</g>
<polygon points="547.4,334.2 537.1,355.7 557.6,355.7" fill="#27ae60"/>
<text x="547.2" y="373" font-size="11.5" text-anchor="middle" fill="#27ae60" fill-opacity="0.85">入场</text>
<circle cx="386.5" cy="434.5" r="6.95" fill="#fff" fill-opacity="0" stroke="#f39c12" stroke-width="3.1"/>
<text x="397.3" y="436.9" font-size="12" fill="#f39c12" fill-opacity="0.85" textLength="10.8" lengthAdjust="spacingAndGlyphs">T1</text>
<circle cx="414.5" cy="345.5" r="6.95" fill="none" stroke="#e74c3c" stroke-width="3.1"/>
<text x="425.3" y="348" font-size="12" fill="#e74c3c" fill-opacity="0.8" textLength="13.4" lengthAdjust="spacingAndGlyphs">T2</text>
<g shape-rendering="crispEdges">
<path d="M646 74h9v1h-9zM646 73h8v1h-8zM647 72h7v1h-7zM647 71h6v1h-6zM648 70h5v1h-5zM648 69h4v1h-4zM649 68h3v1h-3zM649 67h2v1h-2zM650 66h1v1h-1z" fill="#000"/><path d="M647 73h6v1h-6zM648 72h5v1h-5zM648 71h4v1h-4zM649 70h3v1h-3zM649 69h2v1h-2zM650 68h1v1h-1z" fill="#ff0000"/>
<path d="M646 86h9v1h-9zM646 87h8v1h-8zM647 88h7v1h-7zM647 89h6v1h-6zM648 90h5v1h-5zM648 91h4v1h-4zM649 92h3v1h-3zM649 93h2v1h-2zM650 94h1v1h-1z" fill="#000"/><path d="M647 87h6v1h-6zM648 88h5v1h-5zM648 89h4v1h-4zM649 90h3v1h-3zM649 91h2v1h-2zM650 92h1v1h-1z" fill="#0000ff"/>
<path d="M647 113h7v1h-7zM647 112h6v1h-6zM648 111h5v1h-5zM648 110h4v1h-4zM649 109h3v1h-3zM649 108h2v1h-2zM650 107h1v1h-1z" fill="#000"/><path d="M648 112h4v1h-4zM649 111h3v1h-3zM649 110h2v1h-2zM650 109h1v1h-1z" fill="#ffcccc"/>
</g>
<text x="660.3" y="76" font-size="10" fill="#000">关键高点</text>
<text x="660.3" y="96" font-size="10" fill="#000">关键低点</text>
<text x="660.3" y="116" font-size="10" fill="#9c9c9c">过滤点</text>
</svg></body></html>
